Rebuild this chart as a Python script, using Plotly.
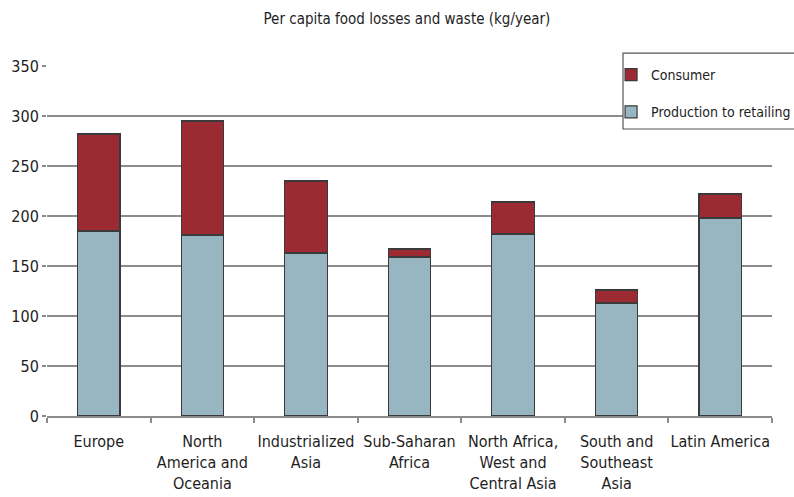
import plotly.graph_objects as go

# Per capita food losses and waste by region (kg/year)
regions = [
    "Europe",
    "North<br>America and<br>Oceania",
    "Industrialized<br>Asia",
    "Sub-Saharan<br>Africa",
    "North Africa,<br>West and<br>Central Asia",
    "South and<br>Southeast<br>Asia",
    "Latin America",
]
production_to_retailing = [185, 181, 163, 159, 182, 113, 198]
consumer = [97, 114, 72, 8, 32, 13, 24]
y_ticks = [0, 50, 100, 150, 200, 250, 300, 350]

FONT = "DejaVu Sans Condensed, Roboto, sans-serif"
RED = "#9c2a32"
BLUE = "#98b5c2"
EDGE = "#3a3a3a"
GRID = "#8c8c8c"
TEXT = "#1e1e1e"

fig = go.Figure()
fig.add_trace(go.Bar(
    x=regions, y=production_to_retailing, name="Production to retailing",
    marker=dict(color=BLUE, line=dict(color=EDGE, width=1.2)),
    legendgroup="p", legendrank=2, width=0.41,
))
fig.add_trace(go.Bar(
    x=regions, y=consumer, name="Consumer",
    marker=dict(color=RED, line=dict(color=EDGE, width=1.2)),
    legendgroup="c", legendrank=1, width=0.41,
))

# legend frame, open on the right where it runs past the page edge
fig.add_shape(
    type="rect", xref="paper", yref="paper",
    x0=0.7945, x1=1.06, y0=0.82, y1=1.037,
    fillcolor="white", line=dict(color="#555555", width=1.2), layer="above",
)

fig.update_layout(
    barmode="stack",
    width=794, height=497,
    margin=dict(l=47, r=22, t=66, b=81, autoexpand=False),
    paper_bgcolor="white", plot_bgcolor="white",
    font=dict(family=FONT, size=15, color=TEXT),
    title=dict(text="Per capita food losses and waste (kg/year)",
               x=0.5125, xanchor="center", y=0.963, yanchor="middle",
               font=dict(family=FONT, size=15, color=TEXT)),
    showlegend=True,
    legend=dict(
        x=0.778, xanchor="left", y=1.02, yanchor="top",
        traceorder="grouped", tracegroupgap=16,
        bgcolor="rgba(0,0,0,0)", borderwidth=0,
        font=dict(family=FONT, size=14, color=TEXT),
        itemwidth=30,
    ),
    bargap=0.59,
)
fig.update_xaxes(
    type="category", tickson="boundaries", tickangle=0, automargin=False,
    showline=True, linecolor=GRID, linewidth=1.5,
    ticks="outside", ticklen=5, tickcolor=GRID, tickwidth=1.5,
    showgrid=False, ticklabelstandoff=10,
    tickfont=dict(family=FONT, size=16, color=TEXT),
)
fig.update_yaxes(
    range=[0, 350], tickvals=y_ticks, automargin=False,
    showgrid=True, gridcolor=GRID, gridwidth=1.5,
    ticks="outside", ticklen=4, tickcolor=GRID, tickwidth=1.5,
    showline=False, zeroline=False,
    tickfont=dict(family=FONT, size=16, color=TEXT),
)

fig.write_html("out.html")
